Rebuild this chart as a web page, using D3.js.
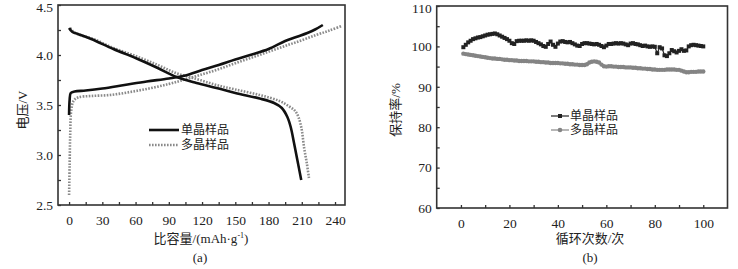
<!DOCTYPE html>
<html><head><meta charset="utf-8">
<script src="https://cdn.jsdelivr.net/npm/d3@7"></script>
<style>
html,body{margin:0;padding:0;background:#fff;}
svg text{font-family:"Liberation Serif","Noto Sans CJK SC",serif;}
</style></head>
<body><svg id="c" width="738" height="269"></svg>
<script>
// ---- Chart (a) data: charge/discharge curves ----
const scChargeCap = [0, 0.5, 1.5, 5, 15, 30, 50, 70, 90, 105, 120, 135, 150, 165, 180, 195, 205, 215, 222, 229];
const scChargeV   = [3.40, 3.55, 3.62, 3.635, 3.645, 3.665, 3.70, 3.735, 3.765, 3.795, 3.85, 3.90, 3.955, 4.005, 4.06, 4.14, 4.18, 4.22, 4.255, 4.30];
const scDisCap = [0, 3, 8, 20, 40, 60, 80, 97, 115, 133, 150, 172, 185, 192, 197, 200, 203, 206, 209.5];
const scDisV   = [4.27, 4.23, 4.21, 4.16, 4.06, 3.97, 3.87, 3.78, 3.72, 3.67, 3.62, 3.565, 3.52, 3.47, 3.38, 3.28, 3.12, 2.95, 2.75];
const pcChargeCap = [0, 0.5, 1, 2, 4, 8, 20, 37, 55, 73, 90, 103, 118, 133, 148, 163, 178, 193, 208, 223, 235, 246];
const pcChargeV   = [2.60, 2.90, 3.20, 3.45, 3.54, 3.575, 3.59, 3.60, 3.63, 3.667, 3.71, 3.75, 3.80, 3.85, 3.91, 3.967, 4.025, 4.083, 4.14, 4.20, 4.245, 4.29];
const pcDisCap = [1, 4, 10, 22, 40, 60, 80, 97, 115, 133, 150, 172, 190, 199, 204, 207, 210, 212, 214.5, 216.5];
const pcDisV   = [4.27, 4.23, 4.20, 4.16, 4.07, 3.99, 3.90, 3.817, 3.76, 3.70, 3.655, 3.60, 3.54, 3.483, 3.44, 3.38, 3.25, 3.08, 2.92, 2.77];
const aXTicks = [0, 30, 60, 90, 120, 150, 180, 210, 240];
const aYTicks = [2.5, 3.0, 3.5, 4.0, 4.5];
const legendNames = ["单晶样品", "多晶样品"];

// ---- Chart (b) data: capacity retention ----
const cycles = d3.range(1, 101);
const scRetention = [99.8,100.4,101.0,101.4,101.8,102.0,102.2,102.3,102.5,102.7,
  102.9,103.0,103.1,103.2,103.0,102.7,102.4,102.1,101.8,101.4,
  100.8,100.6,101.3,101.4,101.4,101.4,101.5,101.4,101.5,101.4,
  101.1,100.8,100.5,100.1,99.9,100.6,101.2,100.4,99.9,100.7,
  101.2,101.3,101.1,101.0,101.1,100.8,100.5,100.2,100.1,100.6,
  100.8,100.8,100.7,100.6,100.5,100.6,100.4,100.1,99.8,100.2,
  100.6,100.6,100.7,100.8,100.7,100.8,100.7,100.5,100.3,100.7,
  100.8,100.6,100.5,100.3,100.1,100.2,100.0,99.9,100.0,99.9,
  98.3,99.8,99.5,97.8,97.6,98.3,99.1,98.8,98.5,98.9,
  99.3,98.9,99.0,100.0,100.3,100.4,100.3,100.2,100.1,100.0];
const pcRetention = [98.2,98.1,98.0,97.9,97.8,97.7,97.6,97.5,97.4,97.3,
  97.2,97.1,97.0,97.0,96.9,96.9,96.8,96.7,96.7,96.6,
  96.6,96.5,96.5,96.4,96.4,96.4,96.4,96.3,96.3,96.3,
  96.2,96.2,96.1,96.1,96.0,96.0,95.9,95.9,95.9,95.9,
  95.8,95.8,95.7,95.7,95.6,95.6,95.5,95.5,95.4,95.4,
  95.4,95.6,96.0,96.2,96.3,96.2,96.0,95.5,95.1,95.0,
  95.1,95.1,95.0,95.0,94.9,94.9,94.9,94.8,94.8,94.8,
  94.7,94.7,94.6,94.6,94.5,94.5,94.4,94.4,94.3,94.3,
  94.2,94.2,94.2,94.2,94.3,94.3,94.3,94.3,94.2,94.2,
  94.0,93.8,93.6,93.6,93.7,93.7,93.7,93.8,93.8,93.8];
const bXTicks = [0, 20, 40, 60, 80, 100];
const bYTicks = [60, 70, 80, 90, 100, 110];

const svg = d3.select("#c");
const frameColor = "#333";

function frame(g, x0, y0, x1, y1) {
  g.append("rect").attr("x", x0).attr("y", y0).attr("width", x1 - x0).attr("height", y1 - y0)
    .attr("fill", "none").attr("stroke", frameColor).attr("stroke-width", 1.6);
}
function styleLabels(g, topVal) {
  g.select(".domain").remove();
  g.selectAll("text").attr("font-size", 13.5).attr("fill", "#222")
    .attr("dy", d => d === topVal ? "0.5em" : "0.32em");
}

// ===== Chart (a) =====
const ax = d3.scaleLinear().domain([-10, 249]).range([58, 345]);
const ay = d3.scaleLinear().domain([2.5, 4.5]).range([205, 5]);
const ga = svg.append("g");
frame(ga, 58, 5, 345, 205);
ga.append("g").attr("transform", "translate(0,205)")
  .call(d3.axisBottom(ax).tickValues(d3.range(0, 241, 15)).tickSize(-3).tickFormat(""))
  .call(g => { g.select(".domain").remove(); g.selectAll("line").attr("stroke", frameColor).attr("stroke-width", 1.3); });
ga.append("g").attr("transform", "translate(0,205)")
  .call(d3.axisBottom(ax).tickValues(aXTicks).tickSize(0).tickPadding(10).tickFormat(d3.format("d")))
  .call(g => { g.select(".domain").remove(); g.selectAll("text").attr("font-size", 13.5).attr("fill", "#222"); });
ga.append("g").attr("transform", "translate(58,0)")
  .call(d3.axisLeft(ay).tickValues(d3.range(2.5, 4.51, 0.25)).tickSize(-3).tickFormat(""))
  .call(g => { g.select(".domain").remove(); g.selectAll("line").attr("stroke", frameColor).attr("stroke-width", 1.3); });
ga.append("g").attr("transform", "translate(58,0)")
  .call(d3.axisLeft(ay).tickValues(aYTicks).tickSize(0).tickPadding(5).tickFormat(d3.format(".1f")))
  .call(g => styleLabels(g, 4.5));

const lineA = d3.line().x(d => ax(d[0])).y(d => ay(d[1])).curve(d3.curveCatmullRom.alpha(0.5));
function pairs(xs, ys) { return xs.map((v, i) => [v, ys[i]]); }
const dotted = {stroke: "#8a8a8a", dash: "1.6,1.4"};
[[pcChargeCap, pcChargeV], [pcDisCap, pcDisV]].forEach(([c, v]) => {
  ga.append("path").attr("d", lineA(pairs(c, v))).attr("fill", "none")
    .attr("stroke", dotted.stroke).attr("stroke-width", 2.6).attr("stroke-dasharray", dotted.dash);
});
[[scChargeCap, scChargeV], [scDisCap, scDisV]].forEach(([c, v]) => {
  ga.append("path").attr("d", lineA(pairs(c, v))).attr("fill", "none")
    .attr("stroke", "#111").attr("stroke-width", 2.6);
});
// legend (a)
ga.append("line").attr("x1", 149).attr("x2", 179).attr("y1", 130).attr("y2", 130).attr("stroke", "#111").attr("stroke-width", 2.6);
ga.append("line").attr("x1", 149).attr("x2", 179).attr("y1", 145).attr("y2", 145).attr("stroke", dotted.stroke).attr("stroke-width", 2.6).attr("stroke-dasharray", dotted.dash);
legendNames.forEach((n, i) => {
  ga.append("text").attr("x", 181).attr("y", 130 + i * 15).attr("dy", "0.36em")
    .attr("font-size", 12).attr("fill", "#222").text(n);
});
ga.append("text").attr("transform", "translate(22,110) rotate(-90)").attr("text-anchor", "middle").attr("dy", "0.36em")
  .attr("font-size", 13).attr("fill", "#222").text("电压/V");
ga.append("text").attr("x", 201).attr("y", 238).attr("text-anchor", "middle").attr("dy", "0.36em")
  .attr("font-size", 13).attr("fill", "#222").html("比容量/(mAh·g<tspan dy='-5' font-size='8'>-1</tspan><tspan dy='5'>)</tspan>");
ga.append("text").attr("x", 200).attr("y", 257).attr("text-anchor", "middle").attr("dy", "0.36em")
  .attr("font-size", 13).attr("fill", "#222").text("(a)");

// ===== Chart (b) =====
const bx = d3.scaleLinear().domain([-10, 110]).range([436.7, 727.5]);
const by = d3.scaleLinear().domain([60, 110]).range([208, 6]);
const gb = svg.append("g");
frame(gb, 436.7, 6, 727.5, 208);
gb.append("g").attr("transform", "translate(0,208)")
  .call(d3.axisBottom(bx).tickValues(d3.range(0, 101, 10)).tickSize(-3).tickFormat(""))
  .call(g => { g.select(".domain").remove(); g.selectAll("line").attr("stroke", frameColor).attr("stroke-width", 1.3); });
gb.append("g").attr("transform", "translate(0,208)")
  .call(d3.axisBottom(bx).tickValues(bXTicks).tickSize(0).tickPadding(10).tickFormat(d3.format("d")))
  .call(g => { g.select(".domain").remove(); g.selectAll("text").attr("font-size", 13.5).attr("fill", "#222"); });
gb.append("g").attr("transform", "translate(436.7,0)")
  .call(d3.axisLeft(by).tickValues(d3.range(60, 111, 5)).tickSize(-3).tickFormat(""))
  .call(g => { g.select(".domain").remove(); g.selectAll("line").attr("stroke", frameColor).attr("stroke-width", 1.3); });
gb.append("g").attr("transform", "translate(436.7,0)")
  .call(d3.axisLeft(by).tickValues(bYTicks).tickSize(0).tickPadding(5).tickFormat(d3.format("d")))
  .call(g => styleLabels(g, 110));

const lineB = d3.line().x(d => bx(d[0])).y(d => by(d[1]));
const pcPts = pairs(cycles, pcRetention), scPts = pairs(cycles, scRetention);
gb.append("path").attr("d", lineB(pcPts)).attr("fill", "none").attr("stroke", "#888").attr("stroke-width", 1.2);
gb.selectAll("circle.pc").data(pcPts).join("circle").attr("class", "pc")
  .attr("cx", d => bx(d[0])).attr("cy", d => by(d[1])).attr("r", 2.2).attr("fill", "#848484");
gb.append("path").attr("d", lineB(scPts)).attr("fill", "none").attr("stroke", "#222").attr("stroke-width", 1.2);
gb.selectAll("rect.sc").data(scPts).join("rect").attr("class", "sc")
  .attr("x", d => bx(d[0]) - 2).attr("y", d => by(d[1]) - 2).attr("width", 4).attr("height", 4).attr("fill", "#222");
// legend (b)
gb.append("line").attr("x1", 551).attr("x2", 569).attr("y1", 116).attr("y2", 116).attr("stroke", "#222").attr("stroke-width", 1.2);
gb.append("rect").attr("x", 558).attr("y", 114).attr("width", 4).attr("height", 4).attr("fill", "#222");
gb.append("line").attr("x1", 551).attr("x2", 569).attr("y1", 130).attr("y2", 130).attr("stroke", "#888").attr("stroke-width", 1.2);
gb.append("circle").attr("cx", 560).attr("cy", 130).attr("r", 2.3).attr("fill", "#848484");
legendNames.forEach((n, i) => {
  gb.append("text").attr("x", 570).attr("y", 116 + i * 14).attr("dy", "0.36em")
    .attr("font-size", 12).attr("fill", "#222").text(n);
});
gb.append("text").attr("transform", "translate(395,110) rotate(-90)").attr("text-anchor", "middle").attr("dy", "0.36em")
  .attr("font-size", 13).attr("fill", "#222").text("保持率/%");
gb.append("text").attr("x", 590).attr("y", 238).attr("text-anchor", "middle").attr("dy", "0.36em")
  .attr("font-size", 13).attr("fill", "#222").text("循环次数/次");
gb.append("text").attr("x", 590).attr("y", 257).attr("text-anchor", "middle").attr("dy", "0.36em")
  .attr("font-size", 13).attr("fill", "#222").text("(b)");
</script></body></html>
